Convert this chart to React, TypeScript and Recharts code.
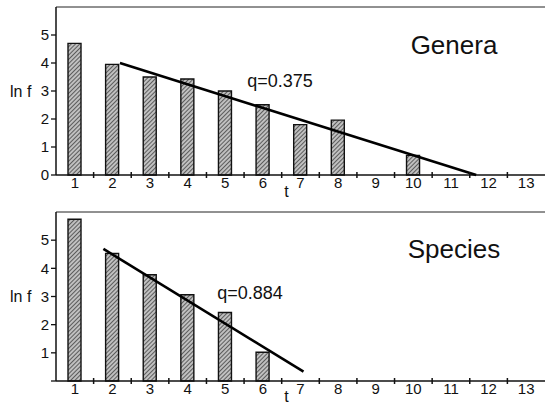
import {
  ComposedChart,
  Bar,
  Scatter,
  XAxis,
  YAxis,
  ReferenceLine,
  Label,
} from "recharts";

const tValues = [1, 2, 3, 4, 5, 6, 7, 8, 9, 10, 11, 12, 13];
const generaLnF = [4.7, 3.95, 3.5, 3.43, 3.0, 2.51, 1.8, 1.96, null, 0.7, null, null, null];
const speciesLnF = [5.74, 4.53, 3.77, 3.06, 2.43, 1.02, null, null, null, null, null, null, null];

const generaFitT = [2.2, 11.67];
const generaFitLnF = [4.0, 0];
const speciesFitT = [1.76, 7.08];
const speciesFitLnF = [4.69, 0.33];

const yTicks = [0, 1, 2, 3, 4, 5];
const xTicks = [1, 1.5, 2, 2.5, 3, 3.5, 4, 4.5, 5, 5.5, 6, 6.5, 7, 7.5, 8, 8.5, 9, 9.5, 10, 10.5, 11, 11.5, 12, 12.5, 13];

const FONT = "'Liberation Sans', Arial, sans-serif";

function toRows(vals: (number | null)[]) {
  return tValues.map((t, i) => ({ t, v: vals[i] }));
}

function fitRows(ts: number[], vs: number[]) {
  return ts.map((t, i) => ({ t, v: vs[i] }));
}

function XTick({ x, y, payload }: any) {
  const v = payload.value;
  if (Number.isInteger(v)) {
    return (
      <text x={x} y={y + 13} textAnchor="middle" fontSize={15} fontFamily={FONT} fill="#111">
        {v}
      </text>
    );
  }
  return <line x1={x} x2={x} y1={y - 3} y2={y + 3} stroke="#111" strokeWidth={1.5} />;
}

interface PanelProps {
  values: (number | null)[];
  fitT: number[];
  fitV: number[];
  height: number;
  top: number;
  axisHeight: number;
  title: string;
  titleY: number;
  qText: string;
  qX: number;
  qY: number;
  showZero: boolean;
  tOffset: number;
  id: string;
}

function Panel({ values, fitT, fitV, height, top, axisHeight, title, titleY, qText, qX, qY, showZero, tOffset, id }: PanelProps) {
  return (
    <ComposedChart
      width={546}
      height={height}
      data={toRows(values)}
      margin={{ top, right: 1, left: 0, bottom: 0 }}
      style={{ fontFamily: FONT }}
    >
      <defs>
        <pattern id={id} width="3" height="3" patternUnits="userSpaceOnUse" patternTransform="rotate(45)">
          <rect width="3" height="3" fill="#c0c0c0" />
          <line x1="0" y1="0" x2="0" y2="3" stroke="#3a3a3a" strokeWidth="1.5" />
        </pattern>
      </defs>
      <XAxis
        xAxisId="num"
        dataKey="t"
        type="number"
        domain={[0.5, 13.5]}
        ticks={xTicks}
        interval={0}
        allowDataOverflow
        tick={<XTick />}
        tickLine={false}
        tickSize={0}
        tickMargin={0}
        height={axisHeight}
        axisLine={{ stroke: "#111", strokeWidth: 1.5 }}
      >
        <Label value="t" position="insideBottom" dx={-14} offset={tOffset} fontSize={16} fill="#111" fontFamily={FONT} />
      </XAxis>
      <XAxis xAxisId="cat" dataKey="t" type="category" hide height={0} />
      <YAxis
        dataKey="v"
        type="number"
        domain={[0, 6]}
        ticks={yTicks}
        width={56}
        tickSize={5}
        tickMargin={2}
        tick={{ fontSize: 15, fill: "#111", fontFamily: FONT }}
        tickLine={{ stroke: "#111", strokeWidth: 1.3 }}
        axisLine={{ stroke: "#111", strokeWidth: 1.5 }}
        tickFormatter={(v: number) => (v === 0 && !showZero ? "" : String(v))}
      >
        <Label value="ln f" position="insideLeft" offset={10} angle={0} fontSize={16} fill="#111" fontFamily={FONT} />
      </YAxis>
      <ReferenceLine xAxisId="num" y={6} stroke="#222" strokeWidth={1} />
      <Bar
        xAxisId="cat"
        dataKey="v"
        barSize={13}
        fill={`url(#${id})`}
        stroke="#111"
        strokeWidth={1.4}
        isAnimationActive={false}
      />
      <Scatter
        xAxisId="num"
        data={fitRows(fitT, fitV)}
        dataKey="v"
        line={{ stroke: "#000", strokeWidth: 2.6 }}
        shape={() => <g />}
        isAnimationActive={false}
      />
      <text x={454} y={titleY} textAnchor="middle" dominantBaseline="central" fontSize={26} fontFamily={FONT} fill="#111">
        {title}
      </text>
      <text x={qX} y={qY} textAnchor="middle" dominantBaseline="central" fontSize={18} fontFamily={FONT} fill="#111">
        {qText}
      </text>
    </ComposedChart>
  );
}

export default function App() {
  return (
    <div style={{ position: "absolute", left: 0, top: 0, width: 546, height: 404, background: "#fff" }}>
      <Panel
        id="hatchA"
        values={generaLnF}
        fitT={generaFitT}
        fitV={generaFitLnF}
        height={200}
        top={7}
        axisHeight={25}
        title="Genera"
        titleY={45}
        qText="q=0.375"
        qX={280}
        qY={81}
        showZero={true}
        tOffset={3}
      />
      <Panel
        id="hatchB"
        values={speciesLnF}
        fitT={speciesFitT}
        fitV={speciesFitLnF}
        height={204}
        top={12}
        axisHeight={23}
        title="Species"
        titleY={49}
        qText="q=0.884"
        qX={250}
        qY={93}
        showZero={false}
        tOffset={2}
      />
    </div>
  );
}
